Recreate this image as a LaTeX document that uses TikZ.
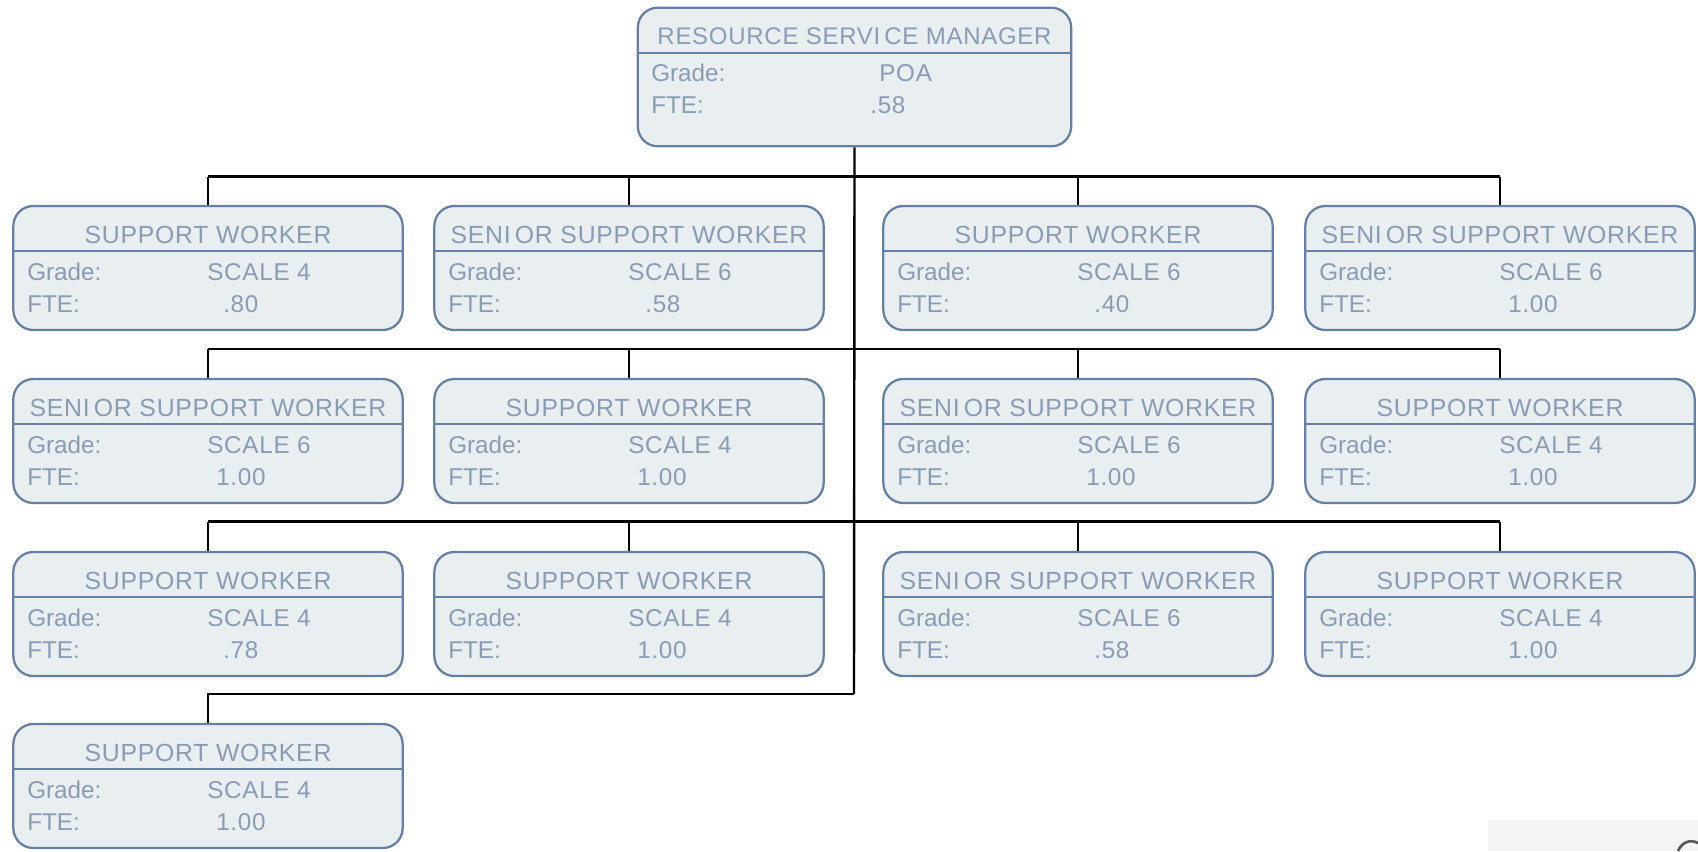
\documentclass[tikz,border=0pt]{standalone}
\usepackage{fontspec}
\setmainfont{Liberation Sans}
\newfontfamily\spaced[LetterSpace=3]{Liberation Sans}
\definecolor{cardfill}{HTML}{E9EEF1}
\definecolor{cardline}{HTML}{6680A5}
\definecolor{cardtext}{HTML}{8A9BB4}
\tikzset{
  card/.style={draw=cardline, line width=1.7pt, fill=cardfill, rounded corners=15pt,
    minimum width=292pt, minimum height=93pt, inner sep=0pt},
  bigcard/.style={card, minimum width=325pt, minimum height=104pt},
  divider/.style={draw=cardline, line width=1.7pt},
  ttl/.style={text=cardtext, font=\spaced\fontsize{18.6}{20}\selectfont, anchor=base, inner sep=0pt},
  lbl/.style={text=cardtext, font=\fontsize{18.2}{20}\selectfont, anchor=base west, inner sep=0pt},
  val/.style={lbl, font=\spaced\fontsize{18.2}{20}\selectfont},
  wire/.style={draw=black, line width=1.8pt},
}
% #1 name, #2 centre x, #3 top y, #4 title, #5 grade, #6 fte, #7 fte offset
\newcommand{\orgcard}[7]{%
  \pgfmathsetmacro{\cy}{#3+62}%
  \pgfmathsetmacro{\xl}{#2-195}%
  \pgfmathsetmacro{\xr}{#2+195}%
  \pgfmathsetmacro{\xa}{#2-181}%
  \pgfmathsetmacro{\xv}{#2-1}%
  \pgfmathsetmacro{\xf}{#2+#7}%
  \node[card] (#1) at (#2,\cy) {};
  \draw[divider] (\xl,#3+45) -- (\xr,#3+45);
  \node[ttl] (#1-t) at (#2,#3+37) {#4};
  \node[lbl] (#1-gl) at (\xa,#3+74) {Grade:};
  \node[val] (#1-gv) at (\xv,#3+74) {#5};
  \node[lbl] (#1-fl) at (\xa,#3+106) {FTE:};
  \node[val] (#1-fv) at (\xf,#3+106) {#6};
}
\newcommand{\seni}{SENI\,OR SUPPORT WORKER}
\begin{document}
\begin{tikzpicture}[x=0.75pt,y=-0.75pt]
\useasboundingbox (0,0) rectangle (1698,851);
% bottom-right scrap
\fill[black!4] (1488,820) rectangle (1698,851);
\draw[black!65, line width=2pt] (1678,851) .. controls (1682,842) and (1690,839) .. (1698,843);

% manager
\node[bigcard] (mgr) at (854.5,77) {};
\draw[divider] (638,53) -- (1071,53);
\node[ttl, font=\spaced\fontsize{18}{20}\selectfont] (mgr-t) at (854.5,44) {RESOURCE SERVI\,CE MANAGER};
\node[lbl] (mgr-gl) at (651,81) {Grade:};
\node[val] (mgr-gv) at (879,81) {POA};
\node[lbl] (mgr-fl) at (651,113) {FTE:};
\node[val] (mgr-fv) at (870,113) {.58};

% row 1
\orgcard{a1}{208}{206}{SUPPORT WORKER}{SCALE 4}{.80}{15}
\orgcard{a2}{629}{206}{\seni}{SCALE 6}{.58}{16}
\orgcard{a3}{1078}{206}{SUPPORT WORKER}{SCALE 6}{.40}{16}
\orgcard{a4}{1500}{206}{\seni}{SCALE 6}{1.00}{8}
% row 2
\orgcard{b1}{208}{379}{\seni}{SCALE 6}{1.00}{8}
\orgcard{b2}{629}{379}{SUPPORT WORKER}{SCALE 4}{1.00}{8}
\orgcard{b3}{1078}{379}{\seni}{SCALE 6}{1.00}{8}
\orgcard{b4}{1500}{379}{SUPPORT WORKER}{SCALE 4}{1.00}{8}
% row 3
\orgcard{c1}{208}{552}{SUPPORT WORKER}{SCALE 4}{.78}{15}
\orgcard{c2}{629}{552}{SUPPORT WORKER}{SCALE 4}{1.00}{8}
\orgcard{c3}{1078}{552}{\seni}{SCALE 6}{.58}{16}
\orgcard{c4}{1500}{552}{SUPPORT WORKER}{SCALE 4}{1.00}{8}
% row 4
\orgcard{d1}{208}{724}{SUPPORT WORKER}{SCALE 4}{1.00}{8}

% connectors
\coordinate (bus1) at (854,176.5);
\coordinate (bus2) at (854,349);
\coordinate (bus3) at (854,521.5);
\coordinate (bus4) at (854,694);
\draw[wire] (mgr.south) -- (bus4);
\foreach \r/\y in {a/176.5,b/349,c/521.5}{
  \draw[wire] (\r1.north |- 0,\y) -- (\r4.north |- 0,\y);
  \foreach \c in {1,2,3,4}{
    \draw[wire] (\r\c.north |- 0,\y) -- (\r\c.north);
  }
}
\draw[wire] (bus4) -- (d1.north |- bus4) -- (d1.north);
\end{tikzpicture}
\end{document}
